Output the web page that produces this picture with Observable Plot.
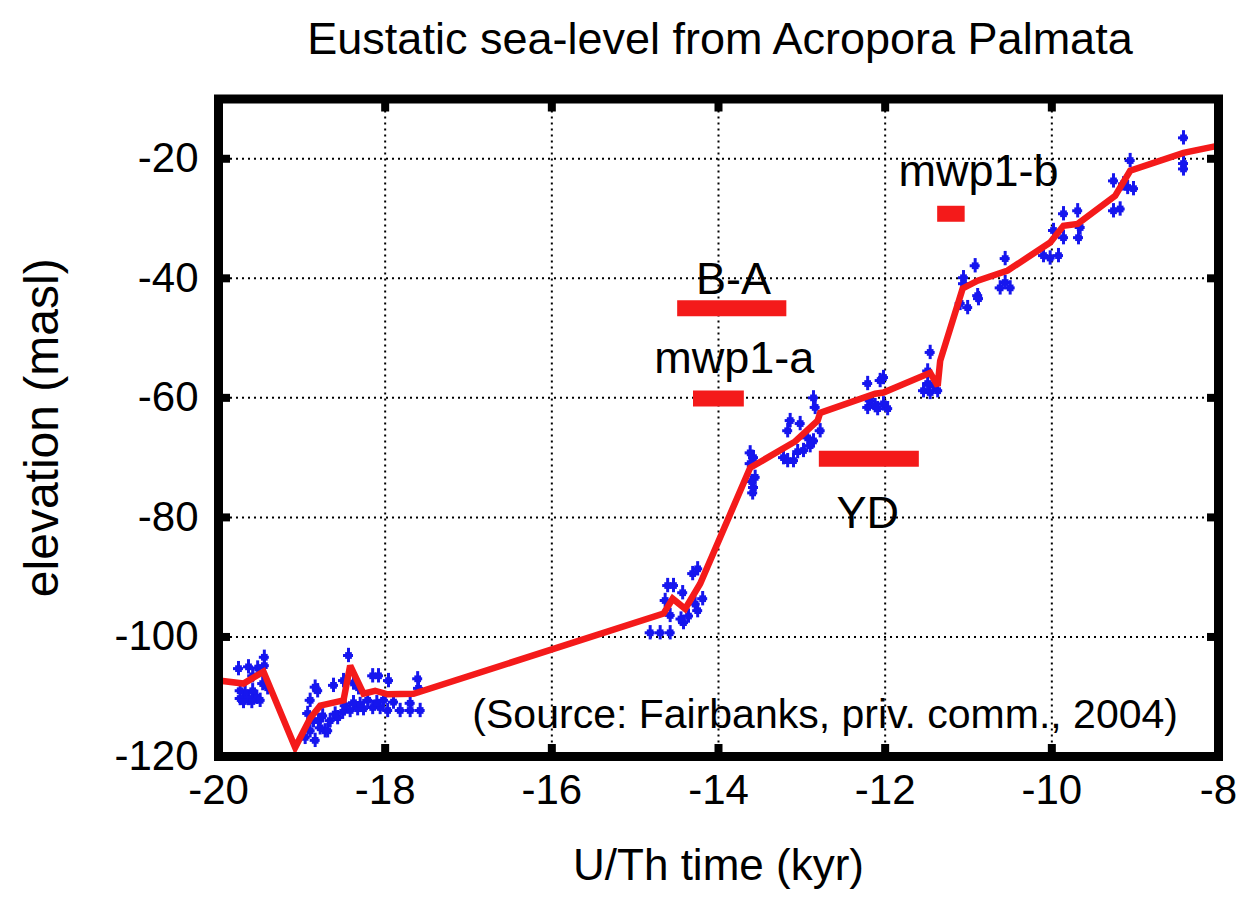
<!DOCTYPE html>
<html>
<head>
<meta charset="utf-8">
<script src="https://cdn.jsdelivr.net/npm/d3@7"></script>
<script src="https://cdn.jsdelivr.net/npm/@observablehq/plot@0.6"></script>
<style>
  html, body { margin: 0; padding: 0; background: white; }
  #wrap { position: relative; width: 1244px; height: 899px; overflow: hidden; }
  #title { box-sizing: border-box; width: 1244px; height: 78px; padding-left: 196px;
           text-align: center; font: 45px "Liberation Sans", Arial, sans-serif; line-height: 78px; color: #000; }
  #chart svg { display: block; }
</style>
</head>
<body>
<div id="wrap">
  <div id="title">Eustatic sea-level from Acropora Palmata</div>
  <div id="chart"></div>
</div>
<script>
// ---- Data ----
const titleText = "Eustatic sea-level from Acropora Palmata";
const xLabel = "U/Th time (kyr)";
const yLabel = "elevation (masl)";
const sourceText = "(Source: Fairbanks, priv. comm., 2004)";

const xTicks = [-20, -18, -16, -14, -12, -10, -8];
const yTicks = [-120, -100, -80, -60, -40, -20];

// red sea-level curve
const lineT = [-20.0, -19.70, -19.46, -19.08, -18.90, -18.78, -18.50, -18.42, -18.26, -18.12, -17.97, -17.66,
  -14.66, -14.55, -14.40, -14.22, -13.62, -13.08, -12.81, -12.78, -12.12, -12.02, -11.46, -11.37, -11.34,
  -11.07, -10.89, -10.53, -10.02, -9.86, -9.69, -9.24, -9.06, -8.42, -8.0];
const lineE = [-107.3, -107.8, -105.8, -118.5, -113.6, -111.5, -110.6, -104.8, -109.5, -109.0, -109.6, -109.5,
  -96.1, -93.6, -95.3, -91.1, -71.7, -67.3, -63.8, -62.5, -59.3, -59.1, -55.8, -58.0, -53.8,
  -41.7, -40.4, -38.7, -34.0, -31.2, -30.9, -26.2, -22.0, -19.0, -17.8];

// blue coral samples
const ptT = [
  -19.76, -19.64, -19.53, -19.45, -19.45, -19.59, -19.47, -19.41, -19.74, -19.64, -19.54, -19.68, -19.59, -19.74,
  -19.70, -19.60, -19.50,
  -18.96, -18.84, -18.90, -18.72, -18.80, -18.93, -18.86, -18.78, -18.69, -18.66, -18.57, -18.51, -18.42, -18.33,
  -18.26, -18.15, -18.06, -17.97, -17.82, -17.70, -17.58, -18.38, -18.21, -18.02, -17.70, -18.90, -18.81, -18.62,
  -18.50, -18.44, -18.38, -18.32, -18.15, -18.08, -17.96, -17.61, -17.60, -18.84,
  -18.75, -18.60, -18.48, -18.30, -18.10, -17.90,
  -14.82, -14.70, -14.58, -14.58, -14.42, -14.25, -14.61, -14.54, -14.43, -14.31, -14.25, -14.19, -14.64,
  -14.45, -14.28, -14.36,
  -13.62, -13.58, -13.62, -13.56, -13.58, -13.59, -13.60,
  -13.17, -13.22, -13.10, -12.98, -12.86, -12.78, -13.02, -12.93, -12.84, -12.86, -13.14, -13.17, -13.05, -12.90,
  -12.21, -12.06, -12.02, -12.21, -12.09, -11.97, -12.18, -12.02, -12.12,
  -11.49, -11.54, -11.46, -11.37, -11.49, -11.46, -11.42,
  -11.06, -10.92, -11.06, -11.10, -11.01, -10.89, -10.88, -10.56, -10.56, -10.62, -10.50,
  -10.02, -10.10, -9.92, -9.98, -9.86, -9.86, -9.69, -9.68, -9.66,
  -9.26, -9.09, -9.02, -9.06, -9.26, -9.18, -9.14,
  -8.42, -8.42, -8.42
];
const ptE = [
  -105.3, -105.0, -105.2, -103.4, -104.8, -106.5, -107.8, -108.5, -110.3, -110.3, -110.1, -109.3, -109.0, -109.0,
  -110.8, -110.8, -110.6,
  -116.8, -117.3, -115.7, -115.7, -114.0, -112.8, -114.0, -115.2, -115.7, -114.0, -113.5, -112.6, -112.3, -112.0,
  -112.0, -111.8, -111.8, -112.3, -112.3, -112.3, -112.3, -111.0, -110.6, -110.6, -111.1, -110.6, -109.0, -108.1,
  -107.3, -103.1, -107.7, -108.5, -106.5, -106.5, -107.3, -107.0, -108.6, -108.4,
  -113.2, -112.9, -111.5, -111.3, -111.0, -110.9,
  -99.3, -99.3, -99.3, -96.4, -97.6, -95.6, -91.4, -91.4, -92.6, -89.4, -88.6, -93.6, -93.9,
  -97.0, -94.5, -96.5,
  -69.2, -70.0, -71.0, -73.3, -75.0, -75.9, -74.0,
  -65.5, -70.0, -70.5, -68.8, -67.2, -65.5, -64.3, -66.7, -61.6, -60.0, -63.8, -70.5, -69.0, -68.0,
  -57.6, -57.1, -56.6, -61.6, -61.8, -61.8, -60.5, -61.0, -61.3,
  -55.5, -58.8, -59.1, -58.8, -57.6, -52.4, -57.8,
  -39.9, -37.9, -40.9, -44.2, -44.9, -42.9, -43.4, -36.7, -40.7, -41.6, -41.6,
  -36.6, -36.2, -36.2, -32.0, -33.2, -29.2, -28.7, -33.2, -31.5,
  -23.7, -24.8, -25.0, -20.3, -28.7, -28.4, -24.2,
  -16.5, -20.8, -21.7
];

// event bars (labels, start, end, level)
const eventNames = ["B-A", "mwp1-a", "YD", "mwp1-b"];
const eventStart = [-14.49, -14.30, -12.79, -11.37];
const eventEnd   = [-13.18, -13.69, -11.59, -11.04];
const eventLevel = [-45.0, -60.1, -70.2, -29.2];
// label anchor positions (data coordinates, baseline)
const labelT = [-13.82, -13.81, -12.21, -10.88];
const labelE = [-42.6, -55.8, -81.7, -24.5];

const sourceT = -12.72, sourceE = -115.2;

// ---- Build tables ----
const lineData = lineT.map((t, i) => ({t, e: lineE[i]}));
const pts = ptT.map((t, i) => ({t, e: ptE[i]}));
const events = eventNames.map((name, i) => ({name, x1: eventStart[i], x2: eventEnd[i], y: eventLevel[i], lt: labelT[i], le: labelE[i]}));

const RED = "#f41a1a";
const BLUE = "#1616ee";
const FONT = "'Liberation Sans', Arial, Helvetica, sans-serif";
const fmt = d => String(d);

const chart = Plot.plot({
  width: 1244,
  height: 821,
  marginLeft: 218,
  marginRight: 26,
  marginTop: 20.5,
  marginBottom: 143,
  x: {domain: [-20, -8]},
  y: {domain: [-120, -10]},
  style: {fontFamily: FONT, background: "white", color: "black", overflow: "visible"},
  marks: [
    // dotted grid
    Plot.ruleX(xTicks.slice(1, -1), {stroke: "black", strokeWidth: 2, strokeDasharray: "2,4"}),
    Plot.ruleY(yTicks.slice(1), {stroke: "black", strokeWidth: 2, strokeDasharray: "2,4"}),
    // samples with error bars
    Plot.ruleY(pts, {y: "e", x1: d => d.t - 0.06, x2: d => d.t + 0.06, stroke: BLUE, strokeWidth: 3}),
    Plot.ruleX(pts, {x: "t", y1: d => d.e - 1.2, y2: d => d.e + 1.2, stroke: BLUE, strokeWidth: 3}),
    Plot.dot(pts, {x: "t", y: "e", symbol: "square", r: 3.8, fill: BLUE, stroke: null}),
    // sea-level curve
    Plot.line(lineData, {x: "t", y: "e", stroke: RED, strokeWidth: 6.5, strokeLinejoin: "miter", strokeMiterlimit: 3}),
    // event bars
    Plot.ruleY(events, {y: "y", x1: "x1", x2: "x2", stroke: RED, strokeWidth: 16}),
    Plot.text(events, {x: "lt", y: "le", text: "name", fontSize: 45, lineAnchor: "bottom", textAnchor: "middle", fill: "black"}),
    // source note
    Plot.text([sourceText], {x: sourceT, y: sourceE, text: d => d, fontSize: 41, lineAnchor: "bottom", textAnchor: "middle", fill: "black"}),
    // frame
    Plot.frame({stroke: "black", strokeWidth: 9}),
    // inward ticks on all four sides
    Plot.axisX(xTicks, {anchor: "bottom", tickSize: -12, strokeWidth: 8, tickFormat: () => "", label: null}),
    Plot.axisX(xTicks, {anchor: "top", tickSize: -12, strokeWidth: 8, tickFormat: () => "", label: null}),
    Plot.axisY(yTicks, {anchor: "left", tickSize: -12, strokeWidth: 8, tickFormat: () => "", label: null}),
    Plot.axisY(yTicks, {anchor: "right", tickSize: -12, strokeWidth: 8, tickFormat: () => "", label: null}),
    // tick labels
    Plot.axisX(xTicks, {anchor: "bottom", tickSize: 0, tickPadding: 18, fontSize: 42, tickFormat: fmt, label: null}),
    Plot.axisY(yTicks, {anchor: "left", tickSize: 0, tickPadding: 20, fontSize: 42, tickFormat: fmt, label: null}),
    // axis titles
    Plot.text([xLabel], {frameAnchor: "bottom", text: d => d, dy: 109, fontSize: 44, lineAnchor: "middle", textAnchor: "middle", fill: "black"}),
    Plot.text([yLabel], {frameAnchor: "left", text: d => d, dx: -176, rotate: -90, fontSize: 48, lineAnchor: "middle", textAnchor: "middle", fill: "black"})
  ]
});
document.getElementById("chart").appendChild(chart);
</script>
</body>
</html>
